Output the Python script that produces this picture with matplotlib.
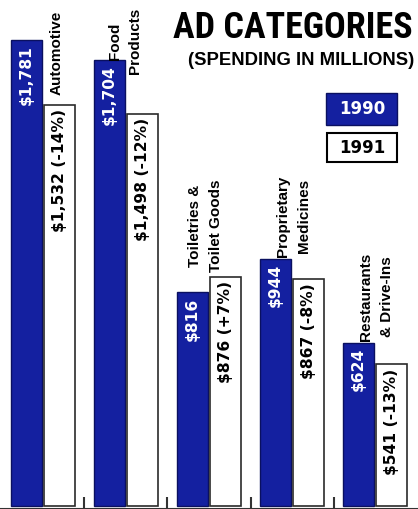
import matplotlib
matplotlib.use("Agg")
import matplotlib.pyplot as plt
from matplotlib import font_manager
from matplotlib.patches import Rectangle
import numpy as np

# data (spending in millions)
categories = [["Automotive"], ["Food", "Products"], ["Toiletries &", "Toilet Goods"],
              ["Proprietary", "Medicines"], ["Restaurants", "& Drive-Ins"]]
spend_1990 = [1781, 1704, 816, 944, 624]
spend_1991 = [1532, 1498, 876, 867, 541]
change_pct = [-14, -12, 7, -8, -13]
years = ["1990", "1991"]

BLUE = "#1420a0"
NAVY = "#0a1060"

# pick a condensed face for the title if one is there
names = {f.name for f in font_manager.fontManager.ttflist}
narrow = "DejaVu Sans"
for cand in ["Liberation Sans Narrow", "DejaVu Sans Condensed", "Roboto Condensed"]:
    if cand in names:
        narrow = cand
        break

fig = plt.figure(figsize=(4.18, 5.09), dpi=100)
ax = fig.add_axes([0, 0, 1, 1])
ax.set_xlim(-0.518, 4.518)
ax.set_ylim(-11.5, 1933.5)

x = np.arange(len(spend_1990))
ax.bar(x - 0.2, spend_1990, width=0.38, color=BLUE, edgecolor=NAVY, linewidth=1)
ax.bar(x + 0.2, spend_1991, width=0.37, color="white", edgecolor="#2a2a2a", linewidth=1.2)

# value labels inside the bars
for i in range(len(x)):
    ax.text(x[i] - 0.2, spend_1990[i] - 19, "${:,}".format(spend_1990[i]),
            rotation=90, ha="center", va="top", color="white",
            fontsize=11.2, fontweight="bold", family="DejaVu Sans")
    ax.text(x[i] + 0.2, spend_1991[i] - 16,
            "${:,} ({:+d}%)".format(spend_1991[i], change_pct[i]),
            rotation=90, ha="center", va="top", color="black",
            fontsize=11.2, fontweight="bold", family="DejaVu Sans")

# category names, hand placed like the original
label_dx = [0.16, -0.01, -0.04, 0.02, 0.02]
label_y = [1731, 1777, 1070, 1108, 799]
for i, lines in enumerate(categories):
    ax.text(x[i] + label_dx[i], label_y[i], "\n".join(lines), rotation=90,
            ha="center", va="center", multialignment="center", linespacing=1.6,
            fontsize=11, fontweight="bold", family="Liberation Sans")

for side in ["top", "left", "right"]:
    ax.spines[side].set_visible(False)
ax.spines["bottom"].set_color("#333333")
ax.spines["bottom"].set_linewidth(1.5)
ax.set_xticks(x[:-1] + 0.5)
ax.set_yticks([])
ax.tick_params(axis="x", direction="in", length=9, width=1.5, color="#333333",
               labelbottom=False)

# title block
W, H = 418.0, 509.0
fig.text(413 / W, 1 - 38 / H, "AD CATEGORIES", ha="right", va="baseline",
         fontsize=26, fontweight="bold", family=narrow)
fig.text(414 / W, 1 - 65 / H, "(SPENDING IN MILLIONS)", ha="right", va="baseline",
         fontsize=13.3, fontweight="bold", family="Liberation Sans")

# legend boxes
fig.patches.append(Rectangle((326 / W, 1 - 125 / H), 71 / W, 32 / H, transform=fig.transFigure,
                             facecolor=BLUE, edgecolor=NAVY, linewidth=1))
fig.patches.append(Rectangle((327 / W, 1 - 162 / H), 70 / W, 29 / H, transform=fig.transFigure,
                             facecolor="white", edgecolor="black", linewidth=1.5))
fig.text(362 / W, 1 - 109 / H, years[0], ha="center", va="center", color="white",
         fontsize=12, fontweight="bold", family="DejaVu Sans")
fig.text(362 / W, 1 - 148 / H, years[1], ha="center", va="center", color="black",
         fontsize=12, fontweight="bold", family="DejaVu Sans")

fig.savefig("out.png", dpi=100)
